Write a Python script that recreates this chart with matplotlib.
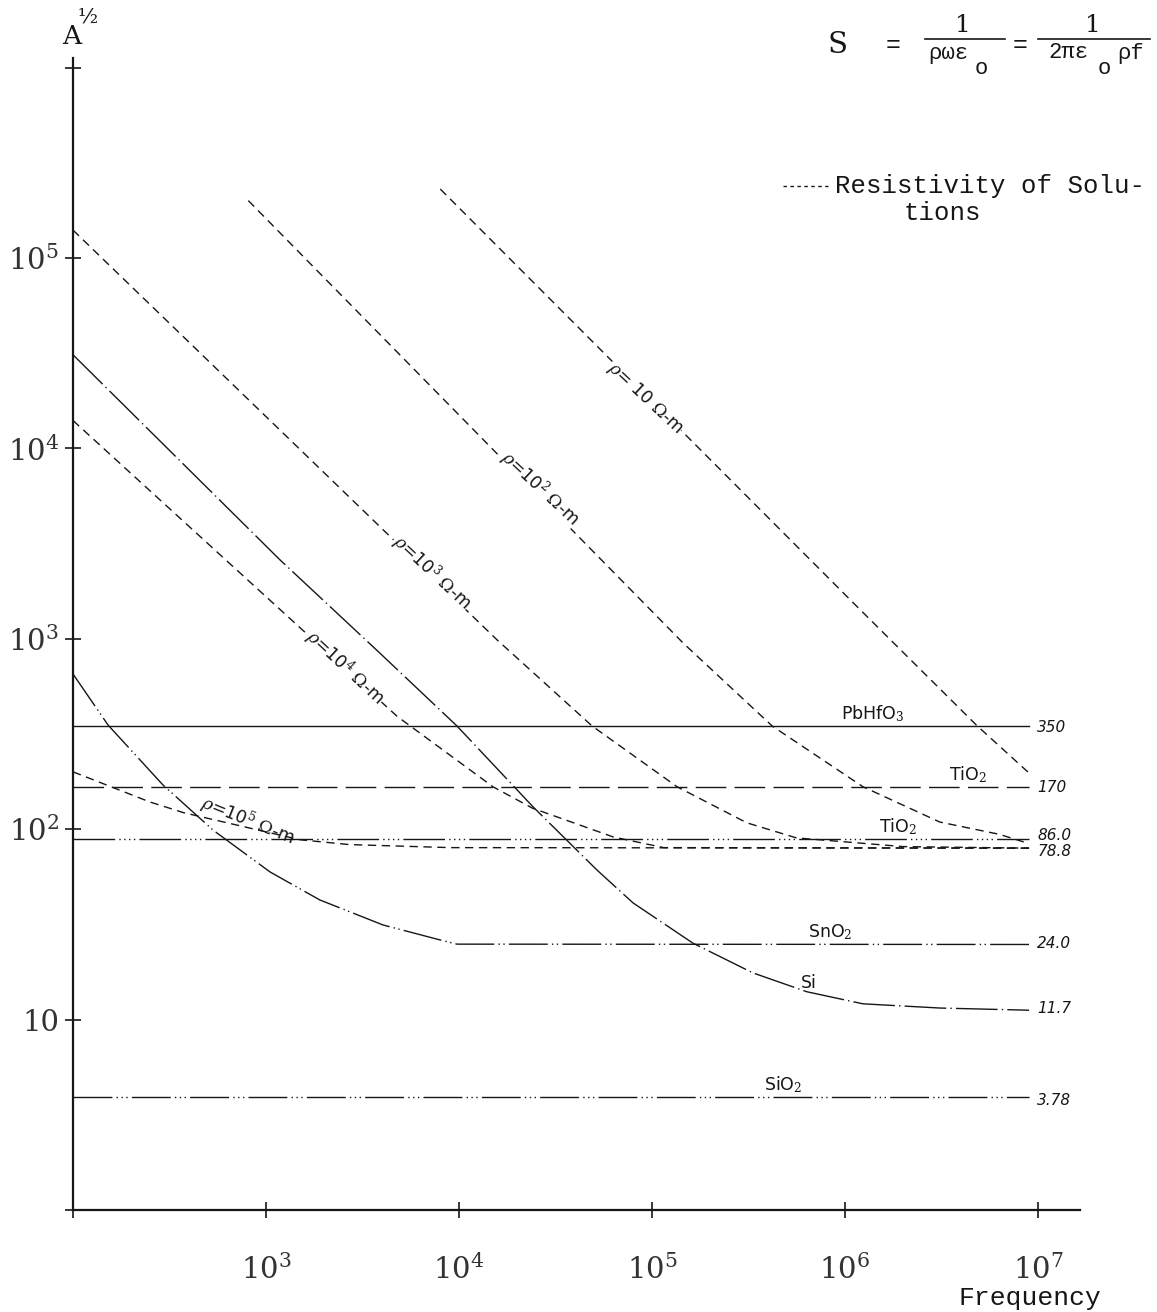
import matplotlib
matplotlib.use('Agg')
from matplotlib import pyplot as plt
from matplotlib.lines import Line2D

# values (frequency, A^1/2)
f_end = 9.0e6

rho10_f = [8.0e3, 1.1e6, 4.8e6, 9.0e6]
rho10_a = [2.3e5, 1.55e3, 352, 197]

rho100_f = [8.1e2, 1.45e5, 4.2e5, 1.24e6, 3.1e6, 6.3e6, 9.0e6]
rho100_a = [2.0e5, 950, 348, 167, 109, 94, 84]

rho1e3_f = [1e2, 1.57e4, 4.9e4, 1.35e5, 3.1e5, 5.6e5, 2.0e6, 9.0e6]
rho1e3_a = [1.4e5, 990, 348, 167, 108, 90, 81, 79.5]

rho1e4_f = [1e2, 4.8e3, 5.6e3, 1.5e4, 2.4e4, 6.3e4, 1.15e5, 9.0e6]
rho1e4_a = [1.4e4, 390, 348, 167, 129, 91, 80, 79.5]

rho1e5_f = [1e2, 2.5e2, 3.75e2, 1.5e3, 2.7e3, 9.0e3, 9.0e6]
rho1e5_a = [200, 139, 122, 88, 83, 80, 79.5]

si_f = [1e2, 1.18e3, 3.89e3, 9.77e3, 2.42e4, 5.19e4, 7.98e4, 1.63e5, 3.33e5,
        6.35e5, 1.24e6, 3.1e6, 9.0e6]
si_a = [3.1e4, 2.6e3, 841, 348, 131, 61, 41, 25.2, 17.6, 14.0, 12.1, 11.5, 11.2]

sno2_f = [1e2, 152, 292, 531, 1.05e3, 1.9e3, 4.04e3, 7.98e3, 9.77e3, 9.0e6]
sno2_a = [653, 352, 171, 99, 59.6, 42.5, 31.4, 26.2, 24.9, 24.8]

pbhfo3_a = 350
tio2_a = 167
tio2_b = 89
sio2_a = 3.9

end_labels = ['350', '170', '86.0', '78.8', '24.0', '11.7', '3.78']
end_label_y = [341, 165, 93, 76, 25, 11.5, 3.78]

plt.rcParams['font.family'] = 'DejaVu Serif'
plt.rcParams['mathtext.fontset'] = 'dejavuserif'

W, H = 1157, 1312
fig = plt.figure(figsize=(W / 100, H / 100), dpi=100)
ax = fig.add_axes([73 / W, 1 - 1210 / H, (1080 - 73) / W, (1210 - 58) / H])
ax.set_xscale('log')
ax.set_yscale('log')
ax.set_xlim(1e2, 10 ** 7.218)
ax.set_ylim(1, 10 ** 6.05)

ink = '#161616'
lw = 1.0

# resistivity of solutions (dashed)
dash = (0, (6, 4))
for fx, ay in [(rho10_f, rho10_a), (rho100_f, rho100_a), (rho1e3_f, rho1e3_a),
               (rho1e4_f, rho1e4_a), (rho1e5_f, rho1e5_a)]:
    ax.plot(fx, ay, color=ink, lw=lw, linestyle=dash)

# materials
ax.plot([1e2, f_end], [pbhfo3_a] * 2, color=ink, lw=lw, linestyle='-')
ax.plot([1e2, f_end], [tio2_a] * 2, color=ink, lw=lw, linestyle=(0, (22, 6)))
ax.plot([1e2, f_end], [tio2_b] * 2, color=ink, lw=lw,
        linestyle=(0, (30, 3, 1, 2.5, 1, 2.5, 1, 2.5, 1, 3)))
ax.plot(sno2_f, sno2_a, color=ink, lw=lw, linestyle=(0, (28, 3, 1, 2.5, 1, 3)))
ax.plot(si_f, si_a, color=ink, lw=lw, linestyle=(0, (30, 3, 1, 3)))
ax.plot([1e2, f_end], [sio2_a] * 2, color=ink, lw=lw,
        linestyle=(0, (28, 3, 1, 2.5, 1, 2.5, 1, 3)))

# axes look
for s in ['top', 'right']:
    ax.spines[s].set_visible(False)
for s in ['left', 'bottom']:
    ax.spines[s].set_linewidth(1.6)
    ax.spines[s].set_color(ink)

ax.set_yticks([1, 10, 1e2, 1e3, 1e4, 1e5, 1e6])
ax.set_yticklabels(['', '10', '$10^2$', '$10^3$', '$10^4$', '$10^5$', ''])
ax.set_xticks([1e2, 1e3, 1e4, 1e5, 1e6, 1e7])
ax.set_xticklabels(['', '$10^3$', '$10^4$', '$10^5$', '$10^6$', '$10^7$'])
ax.minorticks_off()
ax.tick_params(axis='both', direction='inout', length=12, width=1.2,
               color=ink, labelsize=21, labelcolor='#333333')
ax.tick_params(axis='y', pad=4)
ax.tick_params(axis='x', pad=26)

# curve labels
hand = dict(family='DejaVu Sans', fontsize=12.5, color=ink)
box = dict(facecolor='white', edgecolor='none', pad=0.5)
ax.text(9.2e4, 1.84e4, r'$\rho$= 10 $\Omega$-m', rotation=-43, ha='center',
        va='center', bbox=box, **hand)
ax.text(2.63e4, 6.2e3, r'$\rho$=10$^2$ $\Omega$-m', rotation=-43, ha='center',
        va='center', bbox=box, **hand)
ax.text(7.24e3, 2.24e3, r'$\rho$=10$^3$ $\Omega$-m', rotation=-43, ha='center',
        va='center', bbox=box, **hand)
ax.text(2.56e3, 703, r'$\rho$=10$^4$ $\Omega$-m', rotation=-43, ha='center',
        va='center', bbox=box, **hand)
ax.text(800, 111, r'$\rho$=10$^5$ $\Omega$-m', rotation=-22, ha='center',
        va='center', **hand)

ax.text(1.4e6, pbhfo3_a * 1.02, r'PbHfO$_3$', ha='center', va='bottom', **hand)
ax.text(4.33e6, tio2_a * 1.02, r'TiO$_2$', ha='center', va='bottom', **hand)
ax.text(1.88e6, tio2_b * 1.02, r'TiO$_2$', ha='center', va='bottom', **hand)
ax.text(8.4e5, 24.8 * 1.03, r'SnO$_2$', ha='center', va='bottom', **hand)
ax.text(6.5e5, 15.6, 'Si', ha='center', va='center', **hand)
ax.text(4.8e5, sio2_a * 1.03, r'SiO$_2$', ha='center', va='bottom', **hand)

for lab, yv in zip(end_labels, end_label_y):
    ax.text(9.9e6, yv, lab, ha='left', va='center', family='DejaVu Sans',
            fontsize=11, style='italic', color=ink)


def fp(x, y):
    return x / W, 1 - y / H


mono = dict(family='Liberation Mono', color=ink)

# axis titles
fig.text(*fp(72, 36), 'A', ha='center', va='center', fontsize=19,
         family='DejaVu Serif', color=ink)
fig.text(*fp(88, 17), '½', ha='center', va='center', fontsize=15,
         family='DejaVu Serif', color=ink)
fig.text(*fp(1030, 1298), 'Frequency', ha='center', va='center',
         fontsize=19, **mono)

# formula
fig.text(*fp(838, 45), 'S', ha='center', va='center', fontsize=21,
         family='DejaVu Serif', color=ink)
fig.text(*fp(893, 45), '=', ha='center', va='center', fontsize=18, **mono)
fig.text(*fp(963, 26), '1', ha='center', va='center', fontsize=18,
         family='DejaVu Serif', color=ink)
fig.add_artist(Line2D([925 / W, 1005 / W], [1 - 39 / H] * 2, color=ink, lw=1.2))
fig.text(*fp(948, 53), 'ρωε', ha='center', va='center', fontsize=16, **mono)
fig.text(*fp(981, 68), 'o', ha='center', va='center', fontsize=16, **mono)
fig.text(*fp(1020, 45), '=', ha='center', va='center', fontsize=18, **mono)
fig.text(*fp(1093, 26), '1', ha='center', va='center', fontsize=18,
         family='DejaVu Serif', color=ink)
fig.add_artist(Line2D([1038 / W, 1150 / W], [1 - 39 / H] * 2, color=ink, lw=1.2))
fig.text(*fp(1068, 53), '2πε', ha='center', va='center', fontsize=16, **mono)
fig.text(*fp(1104, 68), 'o', ha='center', va='center', fontsize=16, **mono)
fig.text(*fp(1131, 53), 'ρf', ha='center', va='center', fontsize=16, **mono)

# legend
fig.add_artist(Line2D([783 / W, 828 / W], [1 - 186 / H] * 2, color=ink, lw=1.0,
                      linestyle=(0, (2.5, 2.5))))
fig.text(*fp(835, 186), 'Resistivity of Solu-', ha='left', va='center',
         fontsize=18.5, **mono)
fig.text(*fp(904, 213), 'tions', ha='left', va='center', fontsize=18.5, **mono)

fig.savefig('out.png', dpi=100)
